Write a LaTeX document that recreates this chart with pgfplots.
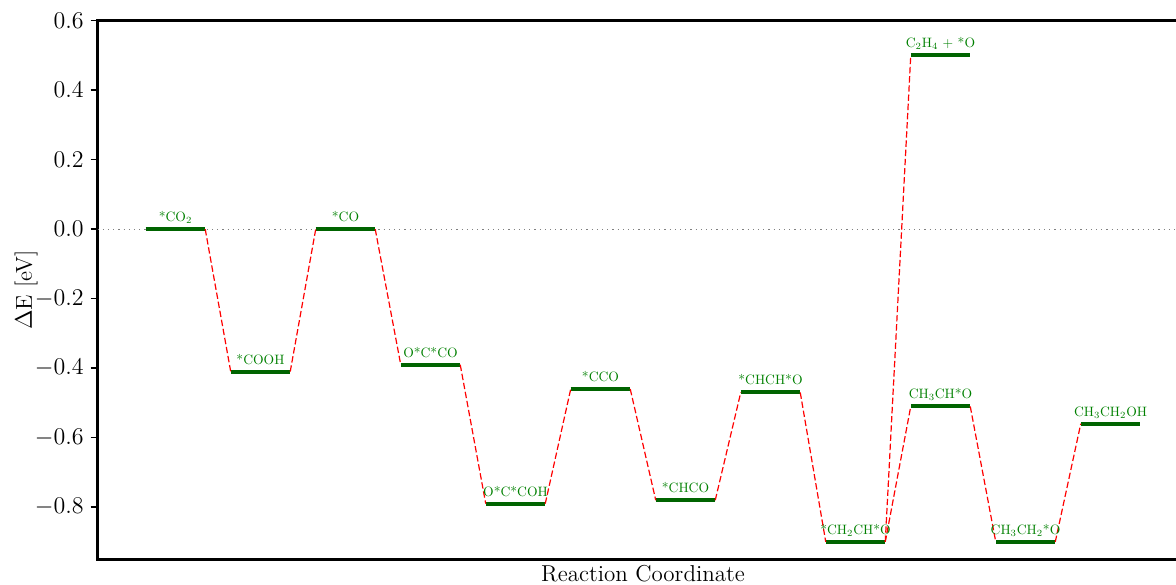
\documentclass[border=0pt]{standalone}
\usepackage{pgfplots}
\usepackage{graphicx}
\pgfplotsset{compat=1.18}
\definecolor{bargreen}{RGB}{0,100,0}
\definecolor{labgreen}{RGB}{0,128,0}
\begin{document}
\begin{tikzpicture}
\begin{axis}[
  scale only axis, width=545.3pt, height=269.3pt,
  xmin=-0.915, xmax=11.915, ymin=-0.95, ymax=0.6,
  axis line style={line width=1.5pt},
  xtick=\empty,
  ytick={-0.8,-0.6,-0.4,-0.2,0,0.2,0.4,0.6},
  ytick pos=left, tick align=outside, major tick length=3.5pt,
  every tick/.style={line width=0.8pt, black},
  yticklabel style={/pgf/number format/.cd, fixed, fixed zerofill, precision=1},
  tick label style={font=\fontsize{11.5}{13}\selectfont},
  label style={font=\fontsize{11.5}{13}\selectfont},
  xlabel={Reaction Coordinate},
  ylabel={$\Delta$E [eV]},
  xlabel style={at={(axis description cs:0.5,-0.0421)}, anchor=base},
  ylabel style={at={(axis description cs:-0.0657,0.5)}, anchor=center},
]
\coordinate (ll) at (rel axis cs:0,0);
\coordinate (ur) at (rel axis cs:1,1);

% zero reference
\addplot[gray, dotted, line width=0.6pt, forget plot] coordinates {(-0.915,0) (11.915,0)};

% energy levels
\pgfplotsset{level/.style={bargreen, line width=2pt}}
\addplot[level] coordinates {(-0.35,0.00) (0.35,0.00)};
\addplot[level] coordinates {(0.65,-0.41) (1.35,-0.41)};
\addplot[level] coordinates {(1.65,0.00) (2.35,0.00)};
\addplot[level] coordinates {(2.65,-0.39) (3.35,-0.39)};
\addplot[level] coordinates {(3.65,-0.79) (4.35,-0.79)};
\addplot[level] coordinates {(4.65,-0.46) (5.35,-0.46)};
\addplot[level] coordinates {(5.65,-0.78) (6.35,-0.78)};
\addplot[level] coordinates {(6.65,-0.47) (7.35,-0.47)};
\addplot[level] coordinates {(7.65,-0.90) (8.35,-0.90)};
\addplot[level] coordinates {(8.65,0.50) (9.35,0.50)};
\addplot[level] coordinates {(8.65,-0.51) (9.35,-0.51)};
\addplot[level] coordinates {(9.65,-0.90) (10.35,-0.90)};
\addplot[level] coordinates {(10.65,-0.56) (11.35,-0.56)};

% species labels
\addplot[draw=none, mark=none, point meta=explicit symbolic,
  nodes near coords={\scalebox{0.68}{\pgfplotspointmeta}},
  nodes near coords style={anchor=base, yshift=3.8pt, inner sep=0pt, text=labgreen}]
  coordinates {
  (0,0.00) [*CO$_2$]
  (1,-0.41) [*COOH]
  (2,0.00) [*CO]
  (3,-0.39) [O*C*CO]
  (4,-0.79) [O*C*COH]
  (5,-0.46) [*CCO]
  (6,-0.78) [*CHCO]
  (7,-0.47) [*CHCH*O]
  (8,-0.90) [*CH$_2$CH*O]
  (9,0.50) [C$_2$H$_4$ + *O]
  (9,-0.51) [CH$_3$CH*O]
  (10,-0.90) [CH$_3$CH$_2$*O]
  (11,-0.56) [CH$_3$CH$_2$OH]
  };

% connectors between consecutive states
\pgfplotsset{conn/.style={red, line width=0.6pt, dash pattern=on 3.2pt off 1.4pt}}
\addplot[conn] coordinates {(0.35,0.00) (0.65,-0.41)};
\addplot[conn] coordinates {(1.35,-0.41) (1.65,0.00)};
\addplot[conn] coordinates {(2.35,0.00) (2.65,-0.39)};
\addplot[conn] coordinates {(3.35,-0.39) (3.65,-0.79)};
\addplot[conn] coordinates {(4.35,-0.79) (4.65,-0.46)};
\addplot[conn] coordinates {(5.35,-0.46) (5.65,-0.78)};
\addplot[conn] coordinates {(6.35,-0.78) (6.65,-0.47)};
\addplot[conn] coordinates {(7.35,-0.47) (7.65,-0.90)};
\addplot[conn] coordinates {(8.35,-0.90) (8.65,0.50)};
\addplot[conn] coordinates {(8.35,-0.90) (8.65,-0.51)};
\addplot[conn] coordinates {(9.35,-0.51) (9.65,-0.90)};
\addplot[conn] coordinates {(10.35,-0.90) (10.65,-0.56)};
\end{axis}
\pgfresetboundingbox
\path[use as bounding box] ([xshift=-48.85pt,yshift=-12.85pt]ll) rectangle ([xshift=-6.15pt,yshift=10.35pt]ur);
\end{tikzpicture}
\end{document}
